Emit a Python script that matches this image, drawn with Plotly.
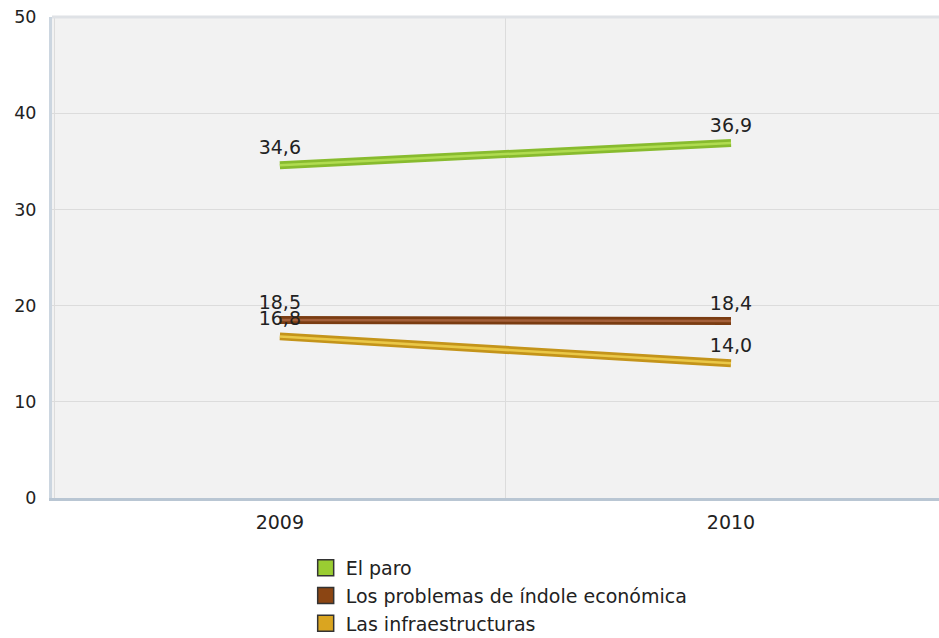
import plotly.graph_objects as go

years = ["2009", "2010"]
series_names = ["El paro", "Los problemas de índole económica", "Las infraestructuras"]
paro = [34.6, 36.9]
economica = [18.5, 18.4]
infraestructuras = [16.8, 14.0]
y_ticks = [0, 10, 20, 30, 40, 50]

series_values = [paro, economica, infraestructuras]
base_colors = ["#9acd32", "#8b4513", "#daa520"]
dark_colors = ["#88bb2e", "#7a3c12", "#c4941a"]
light_colors = ["#b0dc50", "#a4603a", "#eac848"]

FONT = "DejaVu Sans"

fig = go.Figure()

for name, vals, base, dark, light in zip(series_names, series_values, base_colors, dark_colors, light_colors):
    fig.add_trace(go.Scatter(x=years, y=vals, mode="lines", line=dict(color=dark, width=8),
                             showlegend=False, hoverinfo="skip"))
    fig.add_trace(go.Scatter(x=years, y=vals, mode="lines", line=dict(color=light, width=2.5),
                             showlegend=False, hoverinfo="skip"))
    fig.add_trace(go.Scatter(x=years, y=vals, mode="markers+text",
                             text=[f"{v:.1f}".replace(".", ",") for v in vals],
                             textposition="top center",
                             textfont=dict(family=FONT, size=19, color="#222222"),
                             marker=dict(size=9, opacity=0),
                             showlegend=False, hoverinfo="skip"))

for name, base in zip(series_names, base_colors):
    fig.add_trace(go.Scatter(x=[None], y=[None], mode="markers", name=name,
                             marker=dict(symbol="square", size=16, color=base,
                                         line=dict(color="#333333", width=1.5))))

fig.update_layout(
    width=939, height=638,
    autosize=False,
    margin=dict(l=52, r=0, t=17, b=140, pad=0, autoexpand=False),
    paper_bgcolor="white",
    plot_bgcolor="#f2f2f2",
    font=dict(family=FONT, color="#222222"),
    legend=dict(x=0.286, y=-0.106, xanchor="left", yanchor="top",
                font=dict(family=FONT, size=19, color="#222222"),
                bgcolor="rgba(0,0,0,0)", tracegroupgap=0),
    shapes=[dict(type="line", xref="paper", yref="paper", x0=0, x1=1, y0=1, y1=1,
                 line=dict(color="#dfe2e6", width=3))],
)

fig.update_xaxes(
    type="category", range=[-0.505, 1.461], tickson="boundaries",
    automargin=False,
    showgrid=True, gridcolor="#dcdcdc", gridwidth=1,
    showline=True, linecolor="#b9c6d3", linewidth=3,
    ticks="", ticklabelstandoff=5,
    tickfont=dict(family=FONT, size=19, color="#222222"),
    zeroline=False,
)
fig.update_yaxes(
    range=[0, 50], tickvals=y_ticks,
    automargin=False,
    showgrid=True, gridcolor="#dcdcdc", gridwidth=1,
    showline=True, linecolor="#ccd6e0", linewidth=3,
    ticks="", ticklabelstandoff=9,
    tickfont=dict(family=FONT, size=17.5, color="#222222"),
    zeroline=False,
)

fig.write_html(
    "out.html",
    config={"displayModeBar": False},
    post_script="document.body.style.margin='0';document.body.style.overflow='hidden';",
)
